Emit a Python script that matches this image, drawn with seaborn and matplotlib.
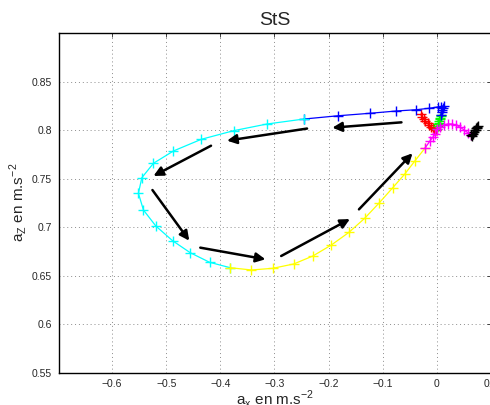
import matplotlib
matplotlib.use("Agg")
import matplotlib.pyplot as plt
import seaborn as sns

# trajectory segments (a_x, a_z)
red_x = [-0.030, -0.027, -0.024, -0.021, -0.017, -0.014, -0.011, -0.008, -0.005, -0.002]
red_y = [0.8162, 0.8138, 0.8115, 0.8092, 0.8068, 0.8050, 0.8035, 0.8022, 0.8012, 0.8005]

green_x = [0.000, 0.0012, 0.0024, 0.0034, 0.0043, 0.0052, 0.0061, 0.0068, 0.0074]
green_y = [0.8010, 0.8038, 0.8059, 0.8076, 0.8093, 0.8110, 0.8127, 0.8141, 0.8155]

blue_x = [0.0074, 0.0087, 0.0097, 0.0106, 0.0124, 0.0080, 0.0013, -0.0143, -0.0383,
          -0.0746, -0.1241, -0.1820, -0.2457]
blue_y = [0.8155, 0.8189, 0.8207, 0.8224, 0.8247, 0.8242, 0.8237, 0.8224, 0.8209,
          0.8196, 0.8172, 0.8147, 0.8113]

cyan_x = [-0.2457, -0.3135, -0.3754, -0.4352, -0.4865, -0.5235, -0.5450, -0.5513,
          -0.5420, -0.5191, -0.4883, -0.4556, -0.4198, -0.3815]
cyan_y = [0.8113, 0.8062, 0.7993, 0.7904, 0.7784, 0.7657, 0.7508, 0.7347,
          0.7175, 0.7010, 0.6859, 0.6735, 0.6636, 0.6580]

yellow_x = [-0.3815, -0.3426, -0.3031, -0.2643, -0.2291, -0.1950, -0.1624, -0.1333,
            -0.1061, -0.0815, -0.0593, -0.0402, -0.0222]
yellow_y = [0.6580, 0.6557, 0.6574, 0.6619, 0.6701, 0.6814, 0.6945, 0.7090,
            0.7251, 0.7405, 0.7546, 0.7684, 0.7811]

magenta_x = [-0.0222, -0.0124, -0.0075, -0.0031, 0.0000, 0.0061, 0.0124, 0.0198,
             0.0272, 0.0352, 0.0431, 0.0506, 0.0569, 0.0630]
magenta_y = [0.7811, 0.7890, 0.7925, 0.7956, 0.8007, 0.8034, 0.8052, 0.8062,
             0.8062, 0.8052, 0.8028, 0.8000, 0.7972, 0.7948]

black_x = [0.0630, 0.0655, 0.0675, 0.0691, 0.0705, 0.0722, 0.0738, 0.0754, 0.0745, 0.0730]
black_y = [0.7948, 0.7940, 0.7960, 0.7976, 0.7995, 0.8018, 0.8032, 0.8044, 0.8020, 0.8000]

# direction arrows: (tail x, tail y, tip x, tip y)
arrow_tail_x = [-0.0654, -0.2398, -0.4172, -0.5254, -0.4370, -0.2876, -0.1439]
arrow_tail_y = [0.8079, 0.8015, 0.7838, 0.7381, 0.6787, 0.6701, 0.7182]
arrow_tip_x = [-0.1931, -0.3876, -0.5235, -0.4574, -0.3167, -0.1606, -0.0450]
arrow_tip_y = [0.8024, 0.7890, 0.7526, 0.6859, 0.6667, 0.7082, 0.7760]

x_ticks = [-0.6, -0.5, -0.4, -0.3, -0.2, -0.1, 0, 0.1]
y_ticks = [0.55, 0.6, 0.65, 0.7, 0.75, 0.8, 0.85]

sns.set_style("white")
plt.rcParams['font.family'] = ['Liberation Sans', 'DejaVu Sans']
plt.rcParams['axes.unicode_minus'] = True

fig = plt.figure(figsize=(4.9, 4.05), dpi=100)
ax = fig.add_axes([59 / 490, 1 - 372.5 / 405, 432 / 490, 339.5 / 405])

segments = [
    (red_x, red_y, (1, 0, 0)),
    (green_x, green_y, (0, 1, 0)),
    (blue_x, blue_y, (0, 0, 1)),
    (cyan_x, cyan_y, (0, 1, 1)),
    (yellow_x, yellow_y, (1, 1, 0)),
    (magenta_x, magenta_y, (1, 0, 1)),
    (black_x, black_y, (0, 0, 0)),
]
for xs, ys, col in segments:
    sns.lineplot(x=xs, y=ys, sort=False, estimator=None, color=col, lw=0.9,
                 marker='+', markersize=6.5, markeredgewidth=1.0,
                 markeredgecolor=col, ax=ax, zorder=3)

for tx, ty, hx, hy in zip(arrow_tail_x, arrow_tail_y, arrow_tip_x, arrow_tip_y):
    ax.annotate("", xy=(hx, hy), xytext=(tx, ty),
                arrowprops=dict(arrowstyle="-|>", color="k", lw=1.8,
                                mutation_scale=14, shrinkA=0, shrinkB=0),
                zorder=4)

ax.set_xlim(-0.698, 0.1)
ax.set_ylim(0.55, 0.9)
ax.set_xticks(x_ticks)
ax.set_yticks(y_ticks)
ax.set_xticklabels([f"{v:g}".replace("-", "\u2212") for v in x_ticks])
ax.set_yticklabels([f"{v:g}" for v in y_ticks])
ax.grid(True, linestyle=(0, (1, 3)), color="0.55", lw=0.7)
ax.tick_params(direction="in", length=3, width=0.6, labelsize=7.5,
               top=True, right=True, pad=5)
for s in ax.spines.values():
    s.set_color("k")
    s.set_linewidth(1.0)

ax.set_title("StS", fontsize=14, pad=6)
ax.set_xlabel(r"a$_\mathregular{x}$ en m.s$^\mathregular{-2}$", fontsize=11, labelpad=-1)
ax.set_ylabel(r"a$_\mathregular{Z}$ en m.s$^\mathregular{-2}$", fontsize=11, labelpad=2)

fig.savefig("out.png", dpi=100)
